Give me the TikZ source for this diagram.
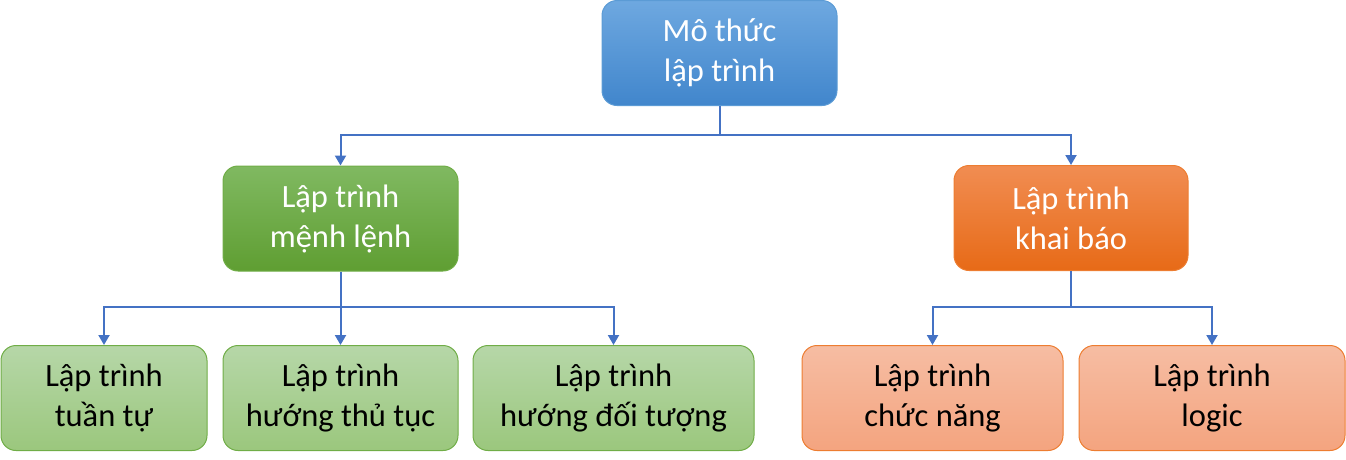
\documentclass[tikz,border=0pt]{standalone}
\usepackage{fontspec}
\setmainfont{Carlito}
\usetikzlibrary{arrows.meta}
\definecolor{conn}{HTML}{4472C4}
\definecolor{rootTop}{HTML}{6EA8E0}
\definecolor{rootBot}{HTML}{4186CC}
\definecolor{rootBd}{HTML}{5B9BD5}
\definecolor{greenTop}{HTML}{80B961}
\definecolor{greenBot}{HTML}{5F9E32}
\definecolor{greenBd}{HTML}{70AD47}
\definecolor{orangeTop}{HTML}{F18D52}
\definecolor{orangeBot}{HTML}{E76A17}
\definecolor{orangeBd}{HTML}{ED7D31}
\definecolor{lgreenTop}{HTML}{B6D7A8}
\definecolor{lgreenBot}{HTML}{9BC77D}
\definecolor{lorangeTop}{HTML}{F6BDA3}
\definecolor{lorangeBot}{HTML}{F4A47F}
\tikzset{
  box/.style={rounded corners=15pt, align=center, inner sep=0pt, line width=1pt,
    font=\fontsize{32.5}{40}\selectfont, minimum height=105pt},
  rootbox/.style={box, top color=rootTop, bottom color=rootBot, draw=rootBd, text=white},
  greenbox/.style={box, top color=greenTop, bottom color=greenBot, draw=greenBd, text=white},
  orangebox/.style={box, top color=orangeTop, bottom color=orangeBot, draw=orangeBd, text=white},
  lgreenbox/.style={box, top color=lgreenTop, bottom color=lgreenBot, draw=greenBd, text=black},
  lorangebox/.style={box, top color=lorangeTop, bottom color=lorangeBot, draw=orangeBd, text=black},
  link/.style={draw=conn, line width=2pt, -{Triangle[length=10pt,width=11pt]}},
  trunk/.style={draw=conn, line width=2pt}
}
\begin{document}
\begin{tikzpicture}[x=1pt,y=-1pt]
\useasboundingbox (0,0) rectangle (1346,459);
\node[rootbox, minimum width=235pt] (root) at (719.5,53) {Mô thức\\lập trình};
\node[greenbox, minimum width=235pt] (imp) at (340.5,218.5) {Lập trình\\mệnh lệnh};
\node[orangebox, minimum width=234pt] (dec) at (1071,218) {Lập trình\\khai báo};
\node[lgreenbox, minimum width=206pt] (seq) at (104,398) {Lập trình\\tuần tự};
\node[lgreenbox, minimum width=235pt] (proc) at (340.5,398) {Lập trình\\hướng thủ tục};
\node[lgreenbox, minimum width=281pt] (oop) at (613.5,398) {Lập trình\\hướng đối tượng};
\node[lorangebox, minimum width=261pt] (fun) at (932.5,398) {Lập trình\\chức năng};
\node[lorangebox, minimum width=266pt] (log) at (1212,398) {Lập trình\\logic};
\coordinate (r1) at (719.5,135);
\coordinate (g1) at (340.5,307);
\coordinate (o1) at (1071,307);
\draw[trunk] (root.south) -- (r1);
\draw[link] (r1) -| (imp.north);
\draw[link] (r1) -| (dec.north);
\draw[trunk] (imp.south) -- (g1);
\draw[link] (g1) -| (seq.north);
\draw[link] (g1) -- (proc.north);
\draw[link] (g1) -| (oop.north);
\draw[trunk] (dec.south) -- (o1);
\draw[link] (o1) -| (fun.north);
\draw[link] (o1) -| (log.north);
\end{tikzpicture}
\end{document}
